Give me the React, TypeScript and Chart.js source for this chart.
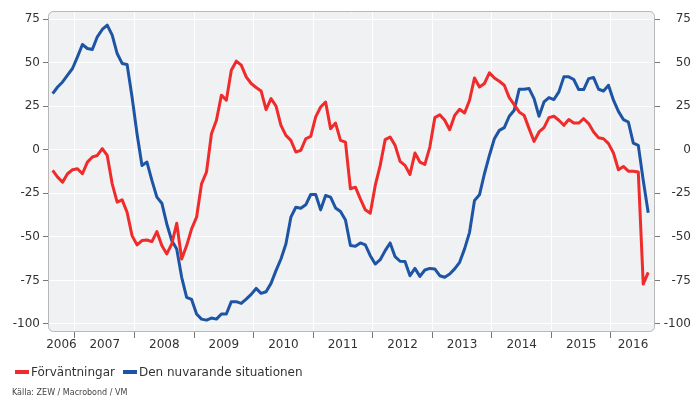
import React, { useEffect, useRef } from "react";
import { Chart, registerables } from "chart.js";

Chart.register(...registerables);

// Monthly series, first month = Aug 2006
const startYear = 2006;
const startMonth = 8;

const expectations = [
  -11.9, -15.7, -18.6, -13.8, -11.5, -10.9, -13.8, -7.1, -4.2, -3.3,
  0.6, -3.3, -19.6, -30.1, -28.8, -35.9, -49.3, -54.6, -52.1, -51.8,
  -52.7, -47.0, -55.0, -59.8, -54.1, -42.2, -62.7, -55.0, -45.4, -38.7,
  -19.6, -12.8, 9.2, 16.9, 31.3, 28.4, 45.6, 50.8, 48.5, 41.8,
  38.0, 35.7, 33.7, 23.0, 29.3, 25.1, 14.0, 8.2, 5.4, -1.3,
  -0.4, 6.3, 7.7, 18.8, 24.5, 27.4, 12.1, 15.3, 5.4, 4.4,
  -22.4, -21.5, -28.2, -34.5, -36.4, -20.5, -9.0, 5.8, 7.3, 2.5,
  -6.7, -9.0, -14.2, -1.9, -7.1, -8.4, 1.5, 18.4, 20.1, 16.9,
  11.5, 19.7, 23.2, 21.1, 28.4, 41.2, 36.0, 38.0, 44.1, 41.2,
  39.3, 37.0, 29.9, 25.9, 21.7, 19.7, 12.1, 4.8, 10.2, 12.7,
  18.4, 19.2, 16.9, 14.0, 17.3, 15.3, 15.3, 17.8, 15.0, 10.2,
  6.9, 6.3, 3.5, -1.9, -11.5, -9.6, -12.3, -12.3, -12.8, -77.1,
  -70.4,
];

const currentSituation = [
  32.2, 36.0, 38.9, 42.8, 46.6, 53.3, 60.4, 58.1, 57.5, 64.8,
  69.0, 71.5, 65.8, 55.2, 49.5, 48.9, 30.3, 9.2, -9.0, -7.1,
  -17.6, -27.2, -30.7, -42.6, -52.1, -57.0, -73.2, -84.7, -85.9, -94.3,
  -97.2, -97.8, -96.6, -97.2, -94.3, -94.3, -87.2, -87.2, -88.2, -85.7,
  -83.0, -79.6, -82.4, -81.5, -76.7, -69.4, -62.7, -54.1, -38.7, -33.0,
  -33.6, -31.6, -25.7, -25.7, -34.5, -26.3, -27.2, -33.4, -35.5, -40.3,
  -55.0, -55.4, -53.5, -54.6, -60.8, -65.6, -63.1, -57.9, -53.5, -61.4,
  -64.0, -64.2, -72.3, -68.1, -72.7, -69.0, -68.1, -68.4, -72.3, -73.2,
  -71.3, -68.4, -64.6, -56.9, -47.4, -29.1, -25.9, -13.8, -3.3, 6.3,
  11.1, 12.7, 19.2, 22.6, 34.7, 34.7, 35.1, 29.3, 19.2, 27.4,
  29.9, 28.8, 33.2, 41.8, 41.8, 40.3, 34.5, 34.5, 40.8, 41.4,
  34.7, 33.7, 37.0, 28.4, 22.0, 17.3, 15.9, 3.8, 2.5, -17.6,
  -36.2,
];

const yTicks = [-100, -75, -50, -25, 0, 25, 50, 75];
const yearTicks = [2007, 2008, 2009, 2010, 2011, 2012, 2013, 2014, 2015, 2016];
const seriesNames = ["Förväntningar", "Den nuvarande situationen"];
const seriesColors = ["#ef2b2b", "#1d55a4"];
const sourceText = "Källa: ZEW / Macrobond / VM";

const X_MIN = 2006.547;
const X_MAX = 2016.739;
const Y_MIN = -104.6;
const Y_MAX = 79.6;

const FONT = "'DejaVu Sans', Verdana, sans-serif";
const TEXT = "#333333";

const monthX = (i: number) => startYear + (startMonth - 0.5) / 12 + i / 12;

const plotFrame = {
  id: "plotFrame",
  beforeDraw(chart: any) {
    const { ctx, chartArea: a } = chart;
    ctx.save();
    ctx.beginPath();
    (ctx as any).roundRect(a.left, a.top, a.right - a.left, a.bottom - a.top, 5);
    ctx.fillStyle = "#f0f1f3";
    ctx.fill();
    ctx.restore();
  },
  afterDraw(chart: any) {
    const { ctx, chartArea: a } = chart;
    ctx.save();
    ctx.beginPath();
    (ctx as any).roundRect(a.left + 0.5, a.top + 0.5, a.right - a.left - 1, a.bottom - a.top - 1, 5);
    ctx.strokeStyle = "#b8b8b8";
    ctx.lineWidth = 1;
    ctx.stroke();
    ctx.restore();
  },
};

export default function App() {
  const ref = useRef<HTMLCanvasElement | null>(null);

  useEffect(() => {
    if (!ref.current) return;
    const series = [expectations, currentSituation];
    const chart = new Chart(ref.current, {
      type: "line",
      data: {
        datasets: series.map((vals, k) => ({
          label: seriesNames[k],
          data: vals.map((v, i) => ({ x: monthX(i), y: v })),
          borderColor: seriesColors[k],
          backgroundColor: seriesColors[k],
          borderWidth: 3,
          pointRadius: 0,
          tension: 0,
          borderJoinStyle: "round" as const,
          xAxisID: "x",
          yAxisID: "y",
        })),
      },
      options: {
        animation: false,
        responsive: false,
        maintainAspectRatio: false,
        layout: { padding: { top: 11, left: 0, right: 0, bottom: 0 } },
        plugins: { legend: { display: false }, tooltip: { enabled: false }, title: { display: false } },
        scales: {
          x: {
            type: "linear",
            position: "bottom",
            weight: 0,
            min: X_MIN,
            max: X_MAX,
            afterBuildTicks: (s: any) => {
              s.ticks = yearTicks.map((v) => ({ value: v }));
            },
            afterFit: (s: any) => {
              s.height = 0;
            },
            ticks: { display: false },
            grid: { color: "#ffffff", lineWidth: 1, tickLength: 6, tickColor: "#777777", drawTicks: true },
            border: { display: false },
          },
          x2: {
            type: "linear",
            position: "bottom",
            weight: 1,
            min: X_MIN,
            max: X_MAX,
            afterBuildTicks: (s: any) => {
              const t = [(X_MIN + yearTicks[0]) / 2];
              for (let k = 0; k < yearTicks.length - 1; k++) t.push(yearTicks[k] + 0.5);
              t.push((yearTicks[yearTicks.length - 1] + X_MAX) / 2);
              s.ticks = t.map((v) => ({ value: v }));
            },
            afterFit: (s: any) => {
              s.height = 401 - 332;
            },
            ticks: {
              autoSkip: false,
              maxRotation: 0,
              padding: 6,
              color: TEXT,
              font: { family: FONT, size: 12 },
              callback: (v: any) => String(Math.floor(Number(v))),
            },
            grid: { display: false, drawTicks: false },
            border: { display: false },
          },
          y: {
            type: "linear",
            position: "left",
            min: Y_MIN,
            max: Y_MAX,
            afterBuildTicks: (s: any) => {
              s.ticks = yTicks.map((v) => ({ value: v }));
            },
            afterFit: (s: any) => {
              s.width = 48;
            },
            ticks: { padding: 3, color: TEXT, font: { family: FONT, size: 12 } },
            grid: { color: "#ffffff", lineWidth: 1, tickLength: 5, tickColor: "#777777" },
            border: { display: false },
          },
          y2: {
            type: "linear",
            position: "right",
            min: Y_MIN,
            max: Y_MAX,
            afterBuildTicks: (s: any) => {
              s.ticks = yTicks.map((v) => ({ value: v }));
            },
            afterFit: (s: any) => {
              s.width = 36;
            },
            ticks: { padding: 3, color: TEXT, crossAlign: "far", font: { family: FONT, size: 12 } },
            grid: { drawOnChartArea: false, tickLength: 5, tickColor: "#777777", color: "transparent" },
            border: { display: false },
          },
        },
      },
      plugins: [plotFrame],
    } as any);
    return () => chart.destroy();
  }, []);

  const swatch = (c: string): React.CSSProperties => ({
    display: "inline-block",
    width: 14,
    height: 4,
    background: c,
    marginRight: 2,
    verticalAlign: "middle",
  });

  return (
    <div style={{ position: "fixed", left: 0, top: 0, width: 691, height: 401, background: "#ffffff", overflow: "hidden" }}>
      <canvas ref={ref} width={691} height={401} style={{ position: "absolute", left: 0, top: 0, width: 691, height: 401 }} />
      <div
        style={{
          position: "absolute",
          left: 15,
          top: 363,
          fontFamily: FONT,
          fontSize: 12,
          color: TEXT,
          whiteSpace: "nowrap",
          lineHeight: "16px",
        }}
      >
        <span style={swatch(seriesColors[0])} />
        <span style={{ verticalAlign: "middle", marginRight: 8 }}>{seriesNames[0]}</span>
        <span style={swatch(seriesColors[1])} />
        <span style={{ verticalAlign: "middle" }}>{seriesNames[1]}</span>
      </div>
      <div
        style={{
          position: "absolute",
          left: 12,
          top: 388,
          fontFamily: FONT,
          fontSize: 8,
          color: "#444444",
          whiteSpace: "nowrap",
          lineHeight: "10px",
        }}
      >
        {sourceText}
      </div>
    </div>
  );
}
